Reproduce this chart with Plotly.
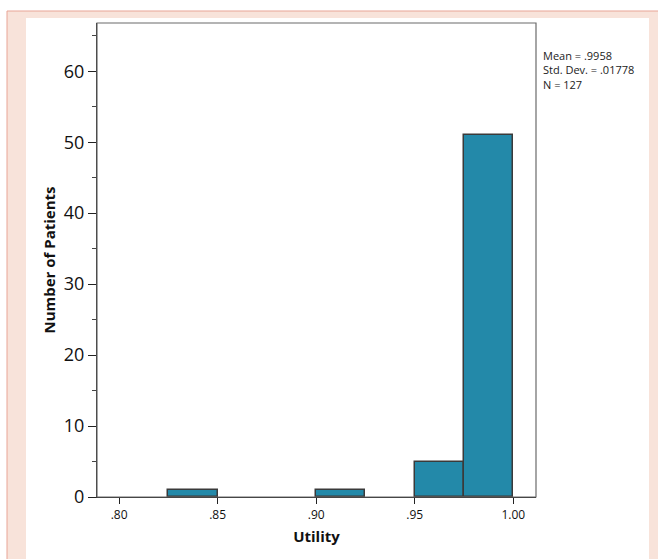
import plotly.graph_objects as go

# Data
bin_starts = [0.825, 0.900, 0.950, 0.975]
counts = [1, 1, 5, 51]
bin_width = 0.025
x_tick_vals = [0.80, 0.85, 0.90, 0.95, 1.00]
x_tick_text = [".80", ".85", ".90", ".95", "1.00"]
y_tick_vals = [0, 10, 20, 30, 40, 50, 60]
stats_text = ["Mean = .9958", "Std. Dev. = .01778", "N = 127"]

centers = [s + bin_width / 2 for s in bin_starts]

W, H = 658, 559
L, R, T, B = 97, 122, 23, 62
pw, ph = W - L - R, H - T - B


def px_x(x):
    return (x - L) / pw


def px_y(y):
    return (H - B - y) / ph


fig = go.Figure()
fig.add_trace(go.Bar(
    x=centers, y=counts, width=bin_width,
    marker=dict(color="#2389a9", line=dict(color="#3a3a3a", width=1.5)),
    showlegend=False, hoverinfo="x+y",
))

shapes = [
    # pink outer frame
    dict(type="rect", xref="paper", yref="paper", layer="below",
         x0=px_x(7), x1=px_x(W + 5), y0=px_y(H + 5), y1=px_y(11),
         fillcolor="#f8e3da", line=dict(color="#e8a596", width=1)),
    # white inner panel
    dict(type="rect", xref="paper", yref="paper", layer="below",
         x0=px_x(26), x1=px_x(649), y0=px_y(H + 5), y1=px_y(18),
         fillcolor="white", line=dict(width=0)),
    # plot frame (top/right grey)
    dict(type="rect", xref="paper", yref="paper", layer="above",
         x0=0, x1=1, y0=0, y1=1,
         fillcolor="rgba(0,0,0,0)", line=dict(color="#6b6b6b", width=1.2)),
]

font_family = "Open Sans, Noto Sans, DejaVu Sans, sans-serif"

fig.update_layout(
    width=W, height=H,
    margin=dict(l=L, r=R, t=T, b=B, pad=0),
    paper_bgcolor="white", plot_bgcolor="white",
    shapes=shapes,
    bargap=0,
    font=dict(family=font_family, color="#111"),
    xaxis=dict(
        range=[0.7888, 1.0115], tickvals=x_tick_vals, ticktext=x_tick_text,
        ticks="outside", ticklen=6, tickcolor="#222", tickwidth=1.2,
        showline=True, linecolor="#222", linewidth=1.3,
        showgrid=False, zeroline=False,
        tickfont=dict(size=12, family=font_family, color="#111"),
        title=dict(text="<b>Utility</b>", font=dict(size=15, family=font_family, color="#111"), standoff=9),
        fixedrange=True,
    ),
    yaxis=dict(
        range=[0, 66.8], tickvals=y_tick_vals,
        ticks="outside", ticklen=8, tickcolor="#222", tickwidth=1.2,
        minor=dict(dtick=5, tick0=0, ticks="outside", ticklen=4, tickcolor="#444", tickwidth=1),
        showline=True, linecolor="#222", linewidth=1.3,
        showgrid=False, zeroline=False,
        tickfont=dict(size=18, family=font_family, color="#111"),
        title=dict(text="<b>Number of Patients</b>", font=dict(size=15, family=font_family, color="#111"), standoff=4),
        fixedrange=True,
    ),
    annotations=[dict(
        xref="paper", yref="paper", x=px_x(541), y=px_y(46),
        xanchor="left", yanchor="top", align="left", showarrow=False,
        text="<br>".join(stats_text),
        font=dict(size=11, family=font_family, color="#222"),
    )],
)

fig.write_html("out.html", config={"displayModeBar": False},
               post_script="document.body.style.margin='0';document.body.style.overflow='hidden';")
